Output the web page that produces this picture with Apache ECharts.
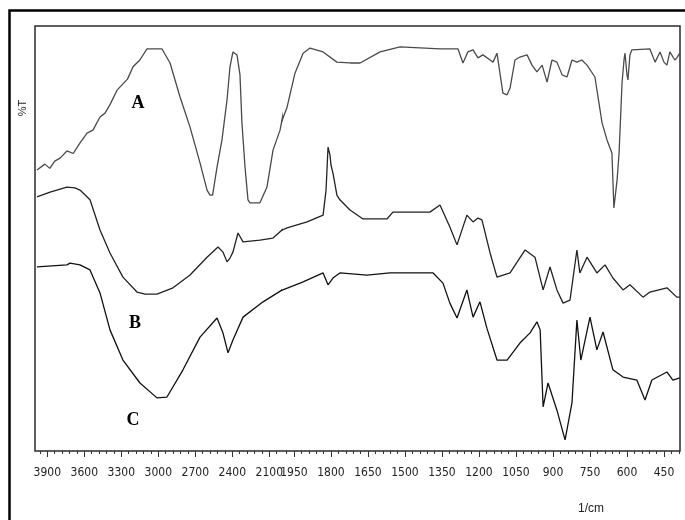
<!DOCTYPE html>
<html><head><meta charset="utf-8">
<script src="https://cdn.jsdelivr.net/npm/echarts@6/dist/echarts.min.js"></script>
<style>html,body{margin:0;padding:0;background:#fff}#c{width:685px;height:520px}</style>
</head><body><div id="c"></div>
<script>
// ---- data (wavenumber in 1/cm, %T in arbitrary offset units) ----
const aWave = [3984,3920,3880,3840,3797,3741,3690,3635,3578,3530,3473,3432,3392,3335,3250,3205,3150,3092,3068,2970,2905,2824,2743,2662,2605,2581,2560,2524,2484,2443,2419,2395,2362,2338,2322,2297,2273,2257,2176,2119,2070,2013,1978,1946,1913,1885,1832,1776,1723,1682,1601,1520,1358,1285,1265,1245,1224,1204,1184,1155,1143,1127,1103,1086,1074,1054,1034,1005,985,965,944,924,904,884,863,843,823,803,783,762,730,701,681,661,653,640,632,620,612,608,600,596,588,580,507,486,466,450,438,426,418,406,398,386];
const aT    = [66.1,67.5,66.5,68.2,68.9,70.6,70.0,72.5,74.8,75.5,78.6,79.5,81.5,84.9,87.5,90.4,92.0,94.6,94.6,94.6,91.3,83.3,76.2,67.8,61.4,60.2,60.2,66.8,73.2,82.6,90.4,93.9,93.2,88.5,77.2,66.8,59.1,58.4,58.4,62.1,70.8,75.5,80.9,88.9,93.6,94.8,93.9,91.5,91.3,91.3,93.9,95.1,94.6,94.6,91.3,93.9,94.4,92.5,93.2,92.0,91.5,93.6,84.2,83.8,85.4,92.0,92.7,93.2,90.8,89.2,90.8,86.8,92.0,91.5,88.5,88.0,92.0,91.5,92.0,90.8,88.0,77.2,73.2,70.1,57.2,63.8,70.1,86.6,92.0,93.6,88.5,87.3,93.2,94.4,94.6,91.5,93.9,91.5,90.8,93.9,93.6,92.0,92.5,93.6];

const bWave = [3984,3878,3741,3676,3635,3554,3473,3392,3287,3173,3108,3011,2881,2743,2605,2516,2476,2443,2419,2395,2354,2313,2176,2070,1978,1897,1832,1820,1812,1804,1800,1792,1776,1764,1723,1670,1573,1549,1399,1358,1318,1289,1249,1224,1204,1188,1155,1127,1074,1013,973,940,912,884,859,831,803,791,762,722,689,657,616,588,535,507,438,398,386];
const bT    = [59.8,60.9,62.1,61.9,61.4,59.1,52.0,46.6,40.9,37.4,36.9,36.9,38.4,41.4,45.6,48.0,46.8,44.5,45.4,46.8,51.3,49.2,49.6,50.1,52.5,53.9,55.5,61.4,71.5,69.6,67.3,65.4,60.2,59.1,56.7,54.6,54.6,56.2,56.2,57.9,52.7,48.5,55.5,53.9,54.8,54.4,46.6,40.9,41.9,47.3,45.6,37.9,43.3,37.9,34.8,35.5,47.3,41.9,45.6,41.9,43.8,40.7,37.9,39.1,36.2,37.4,38.4,36.2,36.2];

const cWave = [3984,3741,3716,3635,3554,3473,3392,3287,3149,3011,2930,2800,2662,2524,2476,2435,2395,2313,2151,1995,1913,1832,1812,1792,1764,1654,1561,1386,1346,1318,1289,1249,1224,1196,1168,1127,1086,1034,993,965,952,940,920,884,851,823,803,787,750,722,697,657,616,560,527,499,438,414,386];
const cT    = [43.3,43.8,44.2,43.8,42.6,37.2,28.5,21.4,16.0,12.5,12.7,19.1,26.8,31.3,27.8,23.1,26.1,31.5,35.1,37.9,39.8,41.9,39.1,40.7,41.9,41.4,41.9,41.9,39.5,34.8,31.3,37.9,31.5,35.1,28.9,21.4,21.4,25.4,27.8,30.4,28.5,10.4,16.0,9.6,2.6,11.3,30.8,21.4,31.5,23.8,28.0,19.1,17.4,16.7,12.0,16.7,18.6,16.7,17.2];

const majorHigh = [3900,3600,3300,3000,2700,2400,2100];
const majorLow  = [1950,1800,1650,1500,1350,1200,1050,900,750,600,450];
const curveNames = ['A','B','C'];

// ---- layout ----
const BOX_L = 35, BOX_T = 26, BOX_W = 645, BOX_H = 425;
const W_MIN = 385, W_BREAK = 2000, W_MAX = 4000;
const pxPerUnit = BOX_W / ((W_MAX - W_BREAK) / 2 + (W_BREAK - W_MIN));
const w0 = (W_MAX - W_BREAK) / 2 * pxPerUnit;
const w1 = BOX_W - w0;

function pairs(ws, ts){ return ws.map((w,i)=>[w, ts[i]]); }
function splitHigh(p){ const out=[]; for (let i=0;i<p.length;i++){ out.push(p[i]); if (p[i][0] < W_BREAK) break; } return out; }
function splitLow(p){ let k = p.findIndex(q=>q[0] <= W_BREAK); if (k>0) k--; return p.slice(k); }

const minorHigh=[], minorLow=[];
for (let w=3960; w>2000; w-=60) if (!majorHigh.includes(w)) minorHigh.push(w);
for (let w=1980; w>W_MIN; w-=30) if (!majorLow.includes(w)) minorLow.push(w);

const labelFont = {fontFamily:'"Liberation Sans Narrow","DejaVu Sans Condensed","Liberation Sans",sans-serif', fontSize:12, color:'#222'};

function xAx(grid, min, max, majors, minors, isMinor){
  return {
    type:'value', gridIndex:grid, min:min, max:max, inverse:true, position:'bottom',
    axisLine:{show:false}, splitLine:{show:false},
    axisTick:{show:true, inside:false, length:isMinor?3:6, customValues:isMinor?minors:majors, lineStyle:{color:'#333', width:1}},
    axisLabel:{show:!isMinor, customValues:majors, margin:16, formatter:(v)=>String(v), ...labelFont}
  };
}

const sets = [pairs(aWave,aT), pairs(bWave,bT), pairs(cWave,cT)];
const colors = ['#4a4a4a','#222','#111'];
const series = [];
sets.forEach((p,i)=>{
  series.push({type:'line', name:curveNames[i]+'1', xAxisIndex:0, yAxisIndex:0, data:splitHigh(p), showSymbol:false, clip:true, lineStyle:{color:colors[i], width:1.3}});
  series.push({type:'line', name:curveNames[i]+'2', xAxisIndex:1, yAxisIndex:1, data:splitLow(p), showSymbol:false, clip:true, lineStyle:{color:colors[i], width:1.3}});
});

const chart = echarts.init(document.getElementById('c'), null, {renderer:'canvas'});
chart.setOption({
  animation:false,
  backgroundColor:'#fff',
  grid:[
    {left:BOX_L, top:BOX_T, width:w0, height:BOX_H},
    {left:BOX_L + w0, top:BOX_T, width:w1, height:BOX_H}
  ],
  xAxis:[
    xAx(0, W_BREAK, W_MAX, majorHigh, minorHigh, false),
    xAx(1, W_MIN, W_BREAK, majorLow, minorLow, false),
    xAx(0, W_BREAK, W_MAX, majorHigh, minorHigh, true),
    xAx(1, W_MIN, W_BREAK, majorLow, minorLow, true)
  ],
  yAxis:[
    {type:'value', gridIndex:0, min:0, max:100, show:false},
    {type:'value', gridIndex:1, min:0, max:100, show:false}
  ],
  series: series,
  graphic:[
    {type:'rect', silent:true, shape:{x:9.5, y:10.5, width:690, height:540}, style:{fill:null, stroke:'#000', lineWidth:2.5}},
    {type:'rect', silent:true, shape:{x:BOX_L, y:BOX_T, width:BOX_W, height:BOX_H}, style:{fill:null, stroke:'#2a2a2a', lineWidth:1.5}},
    {type:'text', silent:true, x:23, y:108, rotation:Math.PI/2, style:{text:'%T', fill:'#222', font:'11px "Liberation Sans Narrow","Liberation Sans",sans-serif', align:'center', verticalAlign:'middle'}},
    {type:'text', silent:true, x:591, y:509, style:{text:'1/cm', fill:'#222', font:'12px "Liberation Sans Narrow","Liberation Sans",sans-serif', align:'center', verticalAlign:'middle'}},
    {type:'text', silent:true, x:138, y:103, style:{text:curveNames[0], fill:'#000', font:'bold 18px "Liberation Serif","DejaVu Serif",serif', align:'center', verticalAlign:'middle'}},
    {type:'text', silent:true, x:135, y:323, style:{text:curveNames[1], fill:'#000', font:'bold 18px "Liberation Serif","DejaVu Serif",serif', align:'center', verticalAlign:'middle'}},
    {type:'text', silent:true, x:133, y:420, style:{text:curveNames[2], fill:'#000', font:'bold 18px "Liberation Serif","DejaVu Serif",serif', align:'center', verticalAlign:'middle'}}
  ]
});
</script></body></html>
